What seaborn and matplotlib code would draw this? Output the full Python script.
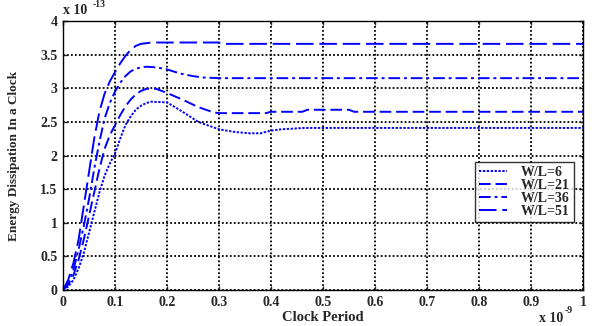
import matplotlib
matplotlib.use("Agg")

import pandas as pd
import matplotlib.pyplot as plt
from matplotlib.ticker import FuncFormatter
import seaborn as sns

# -------------------------------------------------------
# DATA (x in units of 1e-9, y in units of 1e-13)
# -------------------------------------------------------

x_wl6 = [0, 0.01, 0.02, 0.03, 0.04, 0.05, 0.06, 0.07, 0.08, 0.09, 0.1, 0.11, 0.12,
         0.13, 0.14, 0.15, 0.16, 0.17, 0.2, 0.23, 0.26, 0.3, 0.33, 0.36, 0.38, 0.4,
         0.42, 0.465, 1.0]
y_wl6 = [0, 0.05, 0.15, 0.32, 0.55, 0.85, 1.15, 1.45, 1.7, 1.88, 2.03, 2.25, 2.45,
         2.58, 2.68, 2.74, 2.78, 2.8, 2.79, 2.65, 2.5, 2.39, 2.35, 2.33, 2.33, 2.37,
         2.39, 2.41, 2.41]

x_wl21 = [0, 0.01, 0.02, 0.03, 0.04, 0.05, 0.06, 0.07, 0.08, 0.09, 0.1, 0.11, 0.12,
          0.13, 0.14, 0.15, 0.16, 0.17, 0.18, 0.2, 0.23, 0.26, 0.29, 0.3, 0.39, 0.4,
          0.46, 0.47, 0.55, 0.56, 1.0]
y_wl21 = [0, 0.08, 0.22, 0.45, 0.75, 1.1, 1.45, 1.8, 2.1, 2.3, 2.45, 2.6, 2.73,
          2.83, 2.91, 2.96, 2.99, 3.0, 2.99, 2.93, 2.83, 2.72, 2.64, 2.63, 2.63, 2.65,
          2.65, 2.68, 2.68, 2.65, 2.65]

x_wl36 = [0, 0.01, 0.02, 0.03, 0.04, 0.05, 0.06, 0.07, 0.08, 0.09, 0.1, 0.11, 0.12,
          0.13, 0.14, 0.15, 0.16, 0.18, 0.2, 0.225, 0.25, 0.27, 0.3, 1.0]
y_wl36 = [0, 0.1, 0.3, 0.6, 0.95, 1.35, 1.8, 2.2, 2.55, 2.78, 2.95, 3.08, 3.18,
          3.25, 3.29, 3.31, 3.32, 3.31, 3.28, 3.22, 3.18, 3.16, 3.15, 3.15]

x_wl51 = [0, 0.01, 0.02, 0.03, 0.04, 0.05, 0.06, 0.07, 0.08, 0.09, 0.1, 0.11, 0.12,
          0.13, 0.14, 0.15, 0.17, 0.2, 0.3, 0.31, 1.0]
y_wl51 = [0, 0.15, 0.4, 0.75, 1.25, 1.75, 2.25, 2.65, 2.92, 3.1, 3.24, 3.37, 3.48,
          3.57, 3.63, 3.66, 3.68, 3.68, 3.68, 3.66, 3.66]

labels = ["W/L=6", "W/L=21", "W/L=36", "W/L=51"]
x_ticks = [0, 0.1, 0.2, 0.3, 0.4, 0.5, 0.6, 0.7, 0.8, 0.9, 1.0]
y_ticks = [0, 0.5, 1, 1.5, 2, 2.5, 3, 3.5, 4]

# -------------------------------------------------------
# STYLE
# -------------------------------------------------------

sns.set_theme(style="white")
plt.rcParams["font.family"] = ["Liberation Serif", "DejaVu Serif"]
plt.rcParams["font.weight"] = "bold"
plt.rcParams["axes.labelweight"] = "bold"

fig = plt.figure(figsize=(5.92, 3.26), dpi=100)
ax = fig.add_axes([0.1064, 0.1104, 0.8784, 0.8252])

series = [
    (x_wl6, y_wl6, (0, (1.2, 0.8))),
    (x_wl21, y_wl21, (0, (6, 2.5))),
    (x_wl36, y_wl36, (0, (6, 2, 1.5, 2))),
    (x_wl51, y_wl51, (0, (9, 3))),
]

for (xs, ys, ls), lab in zip(series, labels):
    df = pd.DataFrame({"x": xs, "y": ys})
    sns.lineplot(data=df, x="x", y="y", ax=ax, color="#0000ff",
                 linewidth=1.4, linestyle=ls, label=lab, sort=False)

ax.set_xlim(0, 1)
ax.set_ylim(0, 4)
ax.set_xticks(x_ticks)
ax.set_yticks(y_ticks)
fmt = FuncFormatter(lambda v, p: f"{v:g}")
ax.xaxis.set_major_formatter(fmt)
ax.yaxis.set_major_formatter(fmt)

ax.tick_params(direction="in", length=3, width=1, labelsize=10,
               top=True, right=True, bottom=True, left=True, pad=4)
for t in ax.get_xticklabels() + ax.get_yticklabels():
    t.set_fontweight("bold")

ax.grid(True, color="black", linestyle=(0, (1, 1.2)), linewidth=1.3)
for s in ax.spines.values():
    s.set_color("black")
    s.set_linewidth(1.0)

ax.set_xlabel("Clock Period", fontsize=10.5, fontweight="bold")
ax.set_ylabel("Energy Dissipation In a Clock", fontsize=9.5, fontweight="bold")
ax.xaxis.set_label_coords(0.5, -0.078)
ax.yaxis.set_label_coords(-0.083, 0.5)

# exponent labels (MATLAB style)
ax.text(0.0, 1.013, "x 10", transform=ax.transAxes,
        fontsize=10, fontweight="bold", ha="left", va="bottom")
ax.text(0.057, 1.045, "-13", transform=ax.transAxes,
        fontsize=7, fontweight="bold", ha="left", va="bottom")
ax.text(0.962, -0.08, "x 10", transform=ax.transAxes,
        fontsize=10, fontweight="bold", ha="right", va="top")
ax.text(0.965, -0.058, "-9", transform=ax.transAxes,
        fontsize=7, fontweight="bold", ha="left", va="top")

leg = ax.legend(loc="upper right", bbox_to_anchor=(0.983, 0.476), fontsize=10,
                frameon=True, fancybox=False, handlelength=2.0, borderpad=0.3,
                labelspacing=0.0, handletextpad=1.0, borderaxespad=0)
leg.get_frame().set_edgecolor("black")
leg.get_frame().set_linewidth(1.0)
for t in leg.get_texts():
    t.set_fontweight("bold")

plt.savefig("out.png", dpi=100)
plt.close()
